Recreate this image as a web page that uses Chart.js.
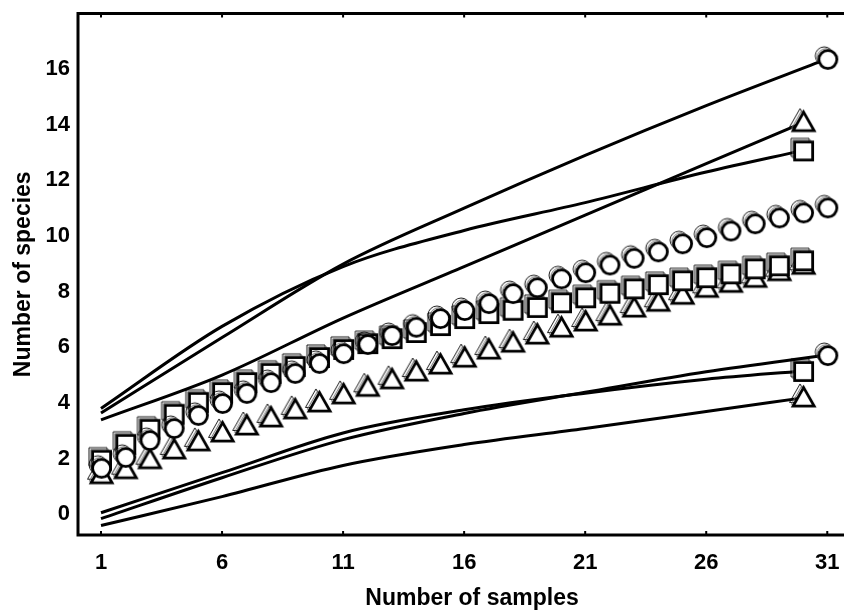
<!DOCTYPE html>
<html>
<head>
<meta charset="utf-8">
<script src="https://cdn.jsdelivr.net/npm/chart.js@4.4.1/dist/chart.umd.min.js"></script>
<style>
  html, body { margin: 0; padding: 0; background: #fff; overflow: hidden; }
  #wrap { width: 844px; height: 613px; overflow: hidden; }
</style>
</head>
<body>
<div id="wrap"><canvas id="speciesChart" width="879" height="613"></canvas></div>
<script>
// observed species per number of samples
const samples = [1, 2, 3, 4, 5, 6, 7, 8, 9, 10, 11, 12, 13, 14, 15, 16, 17, 18, 19, 20,
  21, 22, 23, 24, 25, 26, 27, 28, 29, 30, 31];
const circleMean = [1.67, 2.06, 2.67, 3.10, 3.57, 4.00, 4.36, 4.75, 5.08, 5.44, 5.79, 6.12,
  6.44, 6.74, 7.05, 7.34, 7.59, 7.95, 8.16, 8.48, 8.70, 8.98, 9.22, 9.45, 9.74, 9.96,
  10.20, 10.46, 10.67, 10.85, 11.03];
const squareMean = [1.96, 2.53, 3.07, 3.61, 4.04, 4.39, 4.75, 5.08, 5.33, 5.65, 5.94, 6.15,
  6.33, 6.55, 6.80, 7.05, 7.23, 7.35, 7.45, 7.62, 7.80, 7.96, 8.12, 8.27, 8.41, 8.52,
  8.66, 8.84, 8.95, 9.13];
const triangleMean = [1.42, 1.60, 1.96, 2.31, 2.60, 2.92, 3.17, 3.46, 3.75, 4.00, 4.29, 4.56,
  4.83, 5.11, 5.36, 5.61, 5.90, 6.15, 6.44, 6.69, 6.91, 7.12, 7.41, 7.62, 7.87, 8.12,
  8.30, 8.48, 8.72, 8.95];

// confidence bounds, read at a few sample counts
const ciSamplesLong = [1, 6, 11, 16, 21, 26, 31];
const ciSamplesShort = [1, 6, 11, 16, 21, 26, 30];
const circleUpper = [3.64, 6.35, 8.99, 11.0, 12.9, 14.69, 16.37];
const circleLower = [-0.16, 1.31, 2.68, 3.62, 4.38, 5.12, 5.72];
const squareUpper = [3.80, 6.75, 8.9, 10.2, 11.2, 12.3, 13.08];
const squareLower = [0.05, 1.49, 2.92, 3.75, 4.35, 4.85, 5.15];
const triangleUpper = [3.39, 5.0, 7.05, 8.9, 10.75, 12.6, 14.08];
const triangleLower = [-0.41, 0.63, 1.75, 2.5, 3.08, 3.69, 4.18];

const xTicks = [1, 6, 11, 16, 21, 26, 31];
const yTicks = [0, 2, 4, 6, 8, 10, 12, 14, 16];

const fontFamily = '"Liberation Sans", Arial, sans-serif';

function toPoints(xs, ys) {
  return ys.map((y, i) => ({ x: xs[i], y: y }));
}

// marker with the thin offset outlines of the original plot
function makeMarker(shape) {
  const c = document.createElement('canvas');
  c.width = 30; c.height = 30;
  const g = c.getContext('2d');
  const path = (cx, cy) => {
    g.beginPath();
    if (shape === 'circle') {
      g.arc(cx, cy, 9, 0, Math.PI * 2);
    } else if (shape === 'rect') {
      g.rect(cx - 9, cy - 9, 18, 18);
    } else {
      g.moveTo(cx, cy - 11);
      g.lineTo(cx + 10.5, cy + 7.5);
      g.lineTo(cx - 10.5, cy + 7.5);
      g.closePath();
    }
  };
  g.lineJoin = 'miter';
  g.strokeStyle = '#000'; g.lineWidth = 0.9;
  path(12, 12); g.stroke();
  g.strokeStyle = '#666'; g.lineWidth = 0.9;
  path(13.8, 13.8); g.stroke();
  g.fillStyle = '#fff'; g.strokeStyle = '#000'; g.lineWidth = 2.8;
  path(15.6, 15.6); g.fill(); g.stroke();
  return c;
}

const circleMark = makeMarker('circle');
const squareMark = makeMarker('rect');
const triangleMark = makeMarker('triangle');

function markerSet(xs, ys, mark) {
  return {
    data: toPoints(xs, ys),
    showLine: false,
    pointStyle: mark,
    pointRadius: 10
  };
}

function boundSet(xs, ys, mark) {
  return {
    data: toPoints(xs, ys),
    borderColor: '#000',
    borderWidth: 3,
    cubicInterpolationMode: 'monotone',
    pointStyle: mark,
    pointRadius: ys.map((v, i) => i === ys.length - 1 ? 10 : 0)
  };
}

const framePlugin = {
  id: 'frame',
  beforeDatasetsDraw(chart) {
    const { ctx, chartArea: a, scales } = chart;
    ctx.save();
    ctx.strokeStyle = '#000';
    ctx.lineWidth = 3;
    ctx.strokeRect(a.left, a.top, a.right - a.left, a.bottom - a.top);
    ctx.lineWidth = 2;
    xTicks.forEach(v => {
      const px = scales.x.getPixelForValue(v);
      ctx.beginPath();
      ctx.moveTo(px, a.bottom);
      ctx.lineTo(px, a.bottom - 4);
      ctx.moveTo(px, a.top);
      ctx.lineTo(px, a.top + 4);
      ctx.stroke();
    });
    ctx.restore();
  }
};

const ctx = document.getElementById('speciesChart');

new Chart(ctx, {
  type: 'line',
  data: {
    datasets: [
      markerSet(samples, circleMean, circleMark),
      markerSet(samples, squareMean, squareMark),
      markerSet(samples, triangleMean, triangleMark),
      boundSet(ciSamplesLong, circleUpper, circleMark),
      boundSet(ciSamplesLong, circleLower, circleMark),
      boundSet(ciSamplesShort, squareUpper, squareMark),
      boundSet(ciSamplesShort, squareLower, squareMark),
      boundSet(ciSamplesShort, triangleUpper, triangleMark),
      boundSet(ciSamplesShort, triangleLower, triangleMark)
    ]
  },
  options: {
    responsive: false,
    animation: false,
    events: [],
    layout: { padding: { top: 13.5, right: 4, left: 0, bottom: 0 } },
    plugins: {
      legend: { display: false },
      tooltip: { enabled: false }
    },
    scales: {
      x: {
        type: 'linear',
        min: 0.05,
        max: 32.6,
        afterBuildTicks: s => { s.ticks = xTicks.map(v => ({ value: v })); },
        afterFit: s => { s.height = 78; s.paddingLeft = 0; s.paddingRight = 0; },
        grid: { display: false, drawTicks: false },
        border: { display: false },
        ticks: {
          padding: 15,
          color: '#000',
          maxRotation: 0,
          autoSkip: false,
          font: { family: fontFamily, size: 22, weight: 'bold' }
        },
        title: {
          display: true,
          text: 'Number of samples',
          color: '#000',
          padding: { top: 0, bottom: 1 },
          font: { family: fontFamily, size: 23, weight: 'bold' }
        }
      },
      y: {
        min: -0.75,
        max: 18,
        afterBuildTicks: s => { s.ticks = yTicks.map(v => ({ value: v })); },
        afterFit: s => { s.width = 78; s.paddingTop = 0; s.paddingBottom = 0; },
        grid: { display: false, drawTicks: false },
        border: { display: false },
        ticks: {
          padding: 8,
          color: '#000',
          autoSkip: false,
          font: { family: fontFamily, size: 22, weight: 'bold' }
        },
        title: {
          display: true,
          text: 'Number of species',
          color: '#000',
          padding: { top: 10, bottom: 0 },
          font: { family: fontFamily, size: 23, weight: 'bold' }
        }
      }
    }
  },
  plugins: [framePlugin]
});
</script>
</body>
</html>
